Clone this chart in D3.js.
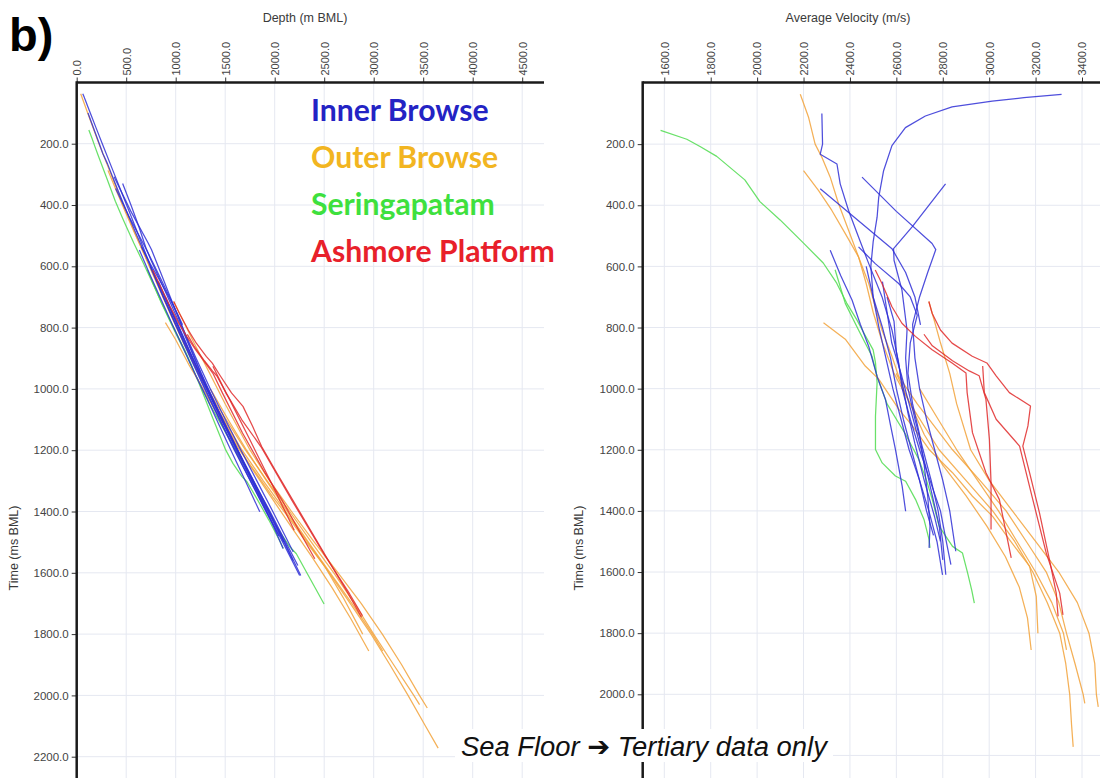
<!DOCTYPE html>
<html><head><meta charset="utf-8">
<script src="https://cdn.jsdelivr.net/npm/d3@7"></script>
<style>body{margin:0;background:#fff}svg{display:block}</style>
</head><body>
<svg id="c" width="1100" height="778"></svg>
<script>
// ---- tick labels ----
const depthTicks = [0,500,1000,1500,2000,2500,3000,3500,4000,4500];
const timeTicksLeft = [200,400,600,800,1000,1200,1400,1600,1800,2000,2200];
const timeTicksRight = [200,400,600,800,1000,1200,1400,1600,1800,2000];
const velocityTicks = [1600,1800,2000,2200,2400,2600,2800,3000,3200,3400];

// ---- wells: [two-way time (ms BML), average velocity (m/s)] ----
const inner1 = [[37,3312],[48,3150],[59,3013],[78,2840],[108,2725],[146,2639],[205,2581],[287,2545],[374,2524],[439,2517],[520,2500],[600,2490],[700,2500],[800,2525],[900,2555],[1000,2585],[1100,2620],[1200,2655],[1300,2700],[1400,2740],[1500,2775],[1609,2799]];
const inner2 = [[100,2279],[200,2282],[233,2272],[265,2344],[330,2358],[417,2394],[504,2437],[591,2481],[699,2538],[808,2581],[916,2610],[1000,2625],[1100,2660],[1200,2700],[1300,2745],[1400,2790],[1500,2815],[1576,2835]];
const inner3 = [[308,2452],[420,2600],[525,2754],[545,2770],[620,2735],[700,2700],[790,2670],[900,2680],[1000,2700],[1100,2730],[1200,2765],[1300,2800],[1400,2830],[1532,2856]];
const inner4 = [[330,2812],[400,2740],[471,2668],[542,2588],[580,2590],[677,2624],[808,2646],[900,2640],[1000,2650],[1100,2680],[1200,2715],[1300,2750],[1400,2780],[1500,2800],[1609,2813]];
const inner5 = [[346,2272],[440,2420],[542,2581],[620,2640],[700,2680],[791,2704]];
const inner6 = [[547,2315],[630,2360],[710,2409],[790,2445],[862,2481],[960,2517],[1035,2553],[1120,2575],[1199,2596],[1319,2625],[1401,2640]];
const inner7 = [[536,2437],[591,2509],[656,2610],[700,2660],[760,2690],[850,2660],[950,2650],[1050,2670],[1150,2700],[1250,2720],[1350,2735],[1450,2745],[1521,2741]];
const inner8 = [[600,2470],[700,2500],[800,2540],[900,2575],[1000,2600],[1100,2630],[1200,2665],[1300,2700],[1400,2730],[1480,2760]];
const inner9 = [[650,2540],[750,2560],[850,2580],[950,2620],[1050,2655],[1150,2690],[1250,2725],[1350,2755],[1450,2785],[1560,2800]];
const inner10 = [[700,2560],[780,2590],[880,2600],[980,2625],[1080,2650],[1180,2680],[1300,2720],[1420,2765],[1500,2790]];

const outer1 = [[37,2186],[113,2222],[200,2250],[243,2279],[308,2315],[395,2351],[482,2394],[569,2437],[656,2481],[732,2509],[808,2538],[894,2581],[960,2610],[1050,2690],[1200,2842],[1300,2960],[1400,3073],[1500,3160],[1600,3246],[1700,3300],[1800,3333],[1900,3370],[2000,3405],[2030,3412]];
const outer2 = [[287,2200],[352,2265],[417,2322],[493,2380],[569,2437],[656,2470],[750,2500],[850,2540],[950,2590],[1050,2660],[1200,2784],[1300,2900],[1400,3015],[1500,3110],[1600,3188],[1700,3250],[1800,3304],[1900,3330],[2000,3347],[2100,3355],[2172,3362]];
const outer3 = [[784,2286],[838,2380],[926,2466],[969,2524],[1068,2611],[1122,2669],[1199,2741],[1275,2842],[1352,2928],[1418,3015],[1494,3087],[1581,3174],[1680,3203],[1800,3210]];
const outer4 = [[715,2740],[773,2762],[850,2790],[950,2830],[1050,2860],[1200,2920],[1300,3000],[1400,3100],[1500,3200],[1600,3300],[1700,3380],[1800,3430],[1900,3455],[2000,3462],[2041,3470]];
const outer5 = [[950,2600],[1050,2660],[1150,2720],[1250,2800],[1350,2900],[1450,2990],[1550,3070],[1650,3130],[1750,3165],[1855,3181]];
const outer6 = [[1000,2700],[1100,2780],[1200,2860],[1300,2950],[1400,3040],[1500,3120],[1600,3200],[1700,3270],[1800,3320],[1855,3333]];

const seringa1 = [[155,1584],[184,1697],[208,1754],[240,1826],[317,1947],[388,2012],[448,2099],[524,2200],[589,2285],[655,2343],[720,2386],[775,2430],[818,2460],[873,2500],[915,2510],[980,2517],[1090,2510],[1199,2510],[1243,2539],[1286,2596],[1303,2640],[1363,2683],[1428,2719],[1494,2741],[1521,2745]];
const seringa2 = [[611,2336],[721,2380],[808,2437],[894,2495],[960,2517],[1050,2560],[1150,2640],[1232,2697],[1300,2730],[1363,2755],[1450,2784],[1516,2842],[1538,2885],[1603,2907],[1660,2925],[1702,2936]];

const ashmore1 = [[715,2740],[753,2754],[808,2790],[851,2840],[894,2927],[916,2990],[958,3030],[1013,3087],[1057,3178],[1122,3167],[1188,3145],[1275,3174],[1407,3217],[1560,3260],[1669,3289],[1745,3297]];
const ashmore2 = [[822,2719],[860,2755],[909,2842],[942,2914],[958,2957],[1035,2986],[1166,3001],[1308,3008],[1461,3008]];
const ashmore3 = [[612,2509],[656,2538],[732,2581],[786,2624],[829,2682],[873,2754],[916,2840],[949,2900],[1013,2905],[1144,2928],[1275,2986],[1363,3044],[1472,3073],[1554,3095]];
const ashmore4 = [[926,2972],[1013,2979],[1100,3030],[1188,3131],[1363,3188],[1538,3246],[1669,3304],[1740,3318]];

const regionNames = ["Inner Browse","Outer Browse","Seringapatam","Ashmore Platform"];
const regionColors = ["#2f2fd6","#f2a23a","#4fdc4f","#e02a2a"];
const legendColors = ["#2323c4","#f2b521","#3ee03e","#e8202a"];
const regionWells = [
  [inner1,inner2,inner3,inner4,inner5,inner6,inner7,inner8,inner9,inner10],
  [outer1,outer2,outer3,outer4,outer5,outer6],
  [seringa1,seringa2],
  [ashmore1,ashmore2,ashmore3,ashmore4]
];
const drawOrder = [2,1,0,3];

// ---- layout ----
const svg = d3.select("#c");
const tickFont = "'Liberation Sans', Arial, sans-serif";
const gridColor = "#e5e8f1";

const xL = d3.scaleLinear().domain([0,4500]).range([76.7,522.2]);
const yL = d3.scaleLinear().domain([0,2200]).range([82.4,756.7]);
const xR = d3.scaleLinear().domain([1600,3400]).range([664.3,1082]);
const yR = d3.scaleLinear().domain([0,2000]).range([83,694.3]);

const L = {x0:76.7, x1:544, y0:82.5, y1:778};
const R = {x0:642.7, x1:1100, y0:82.5, y1:778};

function panel(P, xs, ys, xTicks, yTicks, yGridTicks, xTitle, xTitleX, accessorX){
  const g = svg.append("g");
  g.append("g").selectAll("line").data(xTicks.filter(d=>xs(d)>P.x0+2)).join("line")
    .attr("x1",d=>xs(d)).attr("x2",d=>xs(d)).attr("y1",P.y0).attr("y2",P.y1)
    .attr("stroke",gridColor).attr("stroke-width",1);
  g.append("g").selectAll("line").data(yGridTicks).join("line")
    .attr("x1",P.x0).attr("x2",P.x1).attr("y1",d=>ys(d)).attr("y2",d=>ys(d))
    .attr("stroke",gridColor).attr("stroke-width",1);
  const line = d3.line().x(d=>xs(accessorX(d))).y(d=>ys(d[0])).curve(d3.curveLinear);
  drawOrder.forEach(ri=>{
    g.append("g").selectAll("path").data(regionWells[ri]).join("path")
      .attr("d",line).attr("fill","none").attr("stroke",regionColors[ri])
      .attr("stroke-width",1.25).attr("stroke-opacity",0.85).attr("stroke-linejoin","round");
  });
  const ax = d3.axisTop(xs).tickValues(xTicks).tickFormat(d3.format(".1f")).tickSize(5).tickSizeOuter(0);
  const gx = g.append("g").attr("transform",`translate(0,${P.y0})`).call(ax);
  gx.select(".domain").remove();
  gx.selectAll(".tick line").attr("stroke","#333");
  gx.selectAll(".tick text").attr("transform","rotate(-90)").attr("x",7).attr("y",0).attr("dy","0.35em")
    .style("text-anchor","start").attr("fill","#444").style("font-family",tickFont).style("font-size","11px");
  const ay = d3.axisLeft(ys).tickValues(yTicks).tickFormat(d3.format(".1f")).tickSize(5).tickSizeOuter(0);
  const gy = g.append("g").attr("transform",`translate(${P.x0},0)`).call(ay);
  gy.select(".domain").remove();
  gy.selectAll(".tick line").attr("stroke","#333");
  gy.selectAll(".tick text").attr("fill","#444").style("font-family",tickFont).style("font-size","11.5px");
  g.append("line").attr("x1",P.x0).attr("x2",P.x1).attr("y1",P.y0).attr("y2",P.y0).attr("stroke","#1a1a1a").attr("stroke-width",2.5);
  g.append("line").attr("x1",P.x0).attr("x2",P.x0).attr("y1",P.y0-1.2).attr("y2",P.y1).attr("stroke","#1a1a1a").attr("stroke-width",2.5);
  g.append("text").attr("x",xTitleX).attr("y",22).attr("text-anchor","middle").attr("fill","#3a3a3a")
    .style("font-family",tickFont).style("font-size","12.5px").text(xTitle);
  return g;
}

panel(L, xL, yL, depthTicks, timeTicksLeft, timeTicksLeft, "Depth (m BML)", 305, d=>d[1]*d[0]/2000);
panel(R, xR, yR, velocityTicks, timeTicksRight, [200,400,600,800,1000,1200,1400,1600,1800,2000,2200], "Average Velocity (m/s)", 848, d=>d[1]);

[[14,"Time (ms BML)"],[579,"Time (ms BML)"]].forEach(([x,t])=>{
  svg.append("text").attr("transform",`translate(${x},548) rotate(-90)`).attr("text-anchor","middle")
    .attr("dy","0.35em").attr("fill","#3a3a3a").style("font-family",tickFont).style("font-size","12.5px").text(t);
});

svg.append("text").attr("x",9).attr("y",51).attr("fill","#000").style("font-family","'Liberation Sans', Arial, sans-serif")
  .style("font-weight","bold").style("font-size","47px").text("b)");

const lg = svg.append("g");
const legendY = [121,168,215,262];
const items = lg.selectAll("text").data(regionNames).join("text")
  .attr("x",311).attr("y",(d,i)=>legendY[i]).attr("fill",(d,i)=>legendColors[i])
  .style("font-family","Lato, 'Open Sans', sans-serif").style("font-weight","bold").style("font-size","26px").text(d=>d);
const wA = items.nodes()[3].getComputedTextLength();
items.style("font-size",(26*244/wA)+"px");

const note = svg.append("g");
const rect = note.append("rect").attr("fill","#fff");
const nt = note.append("text").attr("x",461).attr("y",756).attr("fill","#111")
  .style("font-family","'Liberation Sans', Arial, sans-serif").style("font-style","italic").style("font-size","25px");
nt.append("tspan").text("Sea Floor ");
nt.append("tspan").style("font-style","normal").style("font-family","'DejaVu Sans', sans-serif").text("\u2794");
nt.append("tspan").text(" Tertiary data only");
const nw = nt.node().getComputedTextLength();
nt.style("font-size",(25*366/nw)+"px");
rect.attr("x",455).attr("y",729).attr("width",378).attr("height",33);
</script></body></html>
